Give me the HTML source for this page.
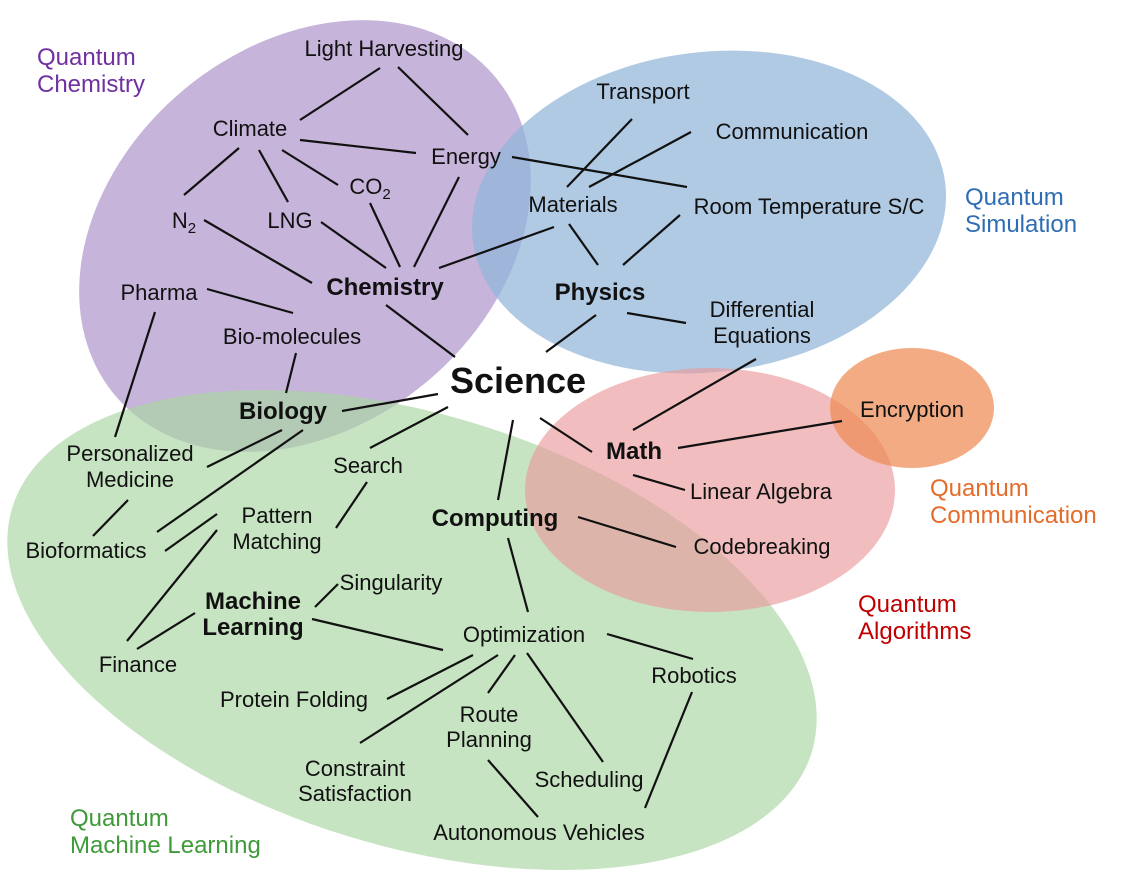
<!DOCTYPE html>
<html><head><meta charset="utf-8"><style>
html,body{margin:0;padding:0;background:#fff;overflow:hidden;width:1126px;height:890px;}
svg{display:block;overflow:hidden;}
svg text{font-family:"Liberation Sans",sans-serif;font-size:22px;fill:#111;}
.b{font-weight:bold;font-size:24px;}
.r{font-size:24px;}
</style></head><body>
<svg width="1126" height="890" viewBox="0 0 1126 890">
<g>
<ellipse cx="305" cy="236" rx="248" ry="190" transform="rotate(-40 305 236)" fill="#b39bcd" fill-opacity="0.75"/>
<ellipse cx="709" cy="212" rx="238" ry="160" transform="rotate(-7 709 212)" fill="#92b5da" fill-opacity="0.72"/>
<ellipse cx="412" cy="630" rx="418" ry="216" transform="rotate(17 412 630)" fill="#a9d6a2" fill-opacity="0.65"/>
<ellipse cx="710" cy="490" rx="185" ry="122" fill="#e99a9c" fill-opacity="0.65"/>
<ellipse cx="912" cy="408" rx="82" ry="60" fill="#ee8a55" fill-opacity="0.72"/>
</g>
<g stroke="#111" stroke-width="2.2">
<line x1="380" y1="68" x2="300" y2="120"/><line x1="398" y1="67" x2="468" y2="135"/>
<line x1="300" y1="140" x2="416" y2="153"/><line x1="512" y1="157" x2="687" y2="187"/>
<line x1="239" y1="148" x2="184" y2="195"/><line x1="259" y1="150" x2="288" y2="202"/>
<line x1="282" y1="150" x2="338" y2="185"/><line x1="204" y1="220" x2="312" y2="283"/>
<line x1="321" y1="222" x2="386" y2="268"/><line x1="370" y1="203" x2="400" y2="267"/>
<line x1="459" y1="177" x2="414" y2="267"/><line x1="554" y1="227" x2="439" y2="268"/>
<line x1="632" y1="119" x2="567" y2="187"/><line x1="691" y1="132" x2="589" y2="187"/>
<line x1="569" y1="224" x2="598" y2="265"/><line x1="680" y1="215" x2="623" y2="265"/>
<line x1="627" y1="313" x2="686" y2="323"/><line x1="596" y1="315" x2="546" y2="352"/>
<line x1="386" y1="305" x2="455" y2="357"/><line x1="207" y1="289" x2="293" y2="313"/>
<line x1="296" y1="353" x2="286" y2="393"/><line x1="155" y1="312" x2="115" y2="437"/>
<line x1="438" y1="394" x2="342" y2="411"/><line x1="282" y1="430" x2="207" y2="467"/>
<line x1="303" y1="430" x2="157" y2="532"/><line x1="217" y1="514" x2="165" y2="551"/>
<line x1="217" y1="530" x2="127" y2="641"/><line x1="195" y1="613" x2="137" y2="649"/>
<line x1="128" y1="500" x2="93" y2="536"/><line x1="367" y1="482" x2="336" y2="528"/>
<line x1="448" y1="407" x2="370" y2="448"/><line x1="338" y1="584" x2="315" y2="607"/>
<line x1="312" y1="619" x2="443" y2="650"/><line x1="513" y1="420" x2="498" y2="500"/>
<line x1="508" y1="538" x2="528" y2="612"/><line x1="540" y1="418" x2="592" y2="452"/>
<line x1="633" y1="430" x2="756" y2="359"/><line x1="678" y1="448" x2="842" y2="421"/>
<line x1="633" y1="475" x2="685" y2="490"/><line x1="578" y1="517" x2="676" y2="547"/>
<line x1="473" y1="655" x2="387" y2="699"/><line x1="498" y1="655" x2="360" y2="743"/>
<line x1="515" y1="655" x2="488" y2="693"/><line x1="527" y1="653" x2="603" y2="762"/>
<line x1="607" y1="634" x2="693" y2="659"/><line x1="692" y1="692" x2="645" y2="808"/>
<line x1="488" y1="760" x2="538" y2="817"/>
</g>
<g>
<text class="r" x="37" y="65" style="fill:#7030a0">Quantum</text>
<text class="r" x="37" y="92" style="fill:#7030a0">Chemistry</text>
<text class="r" x="965" y="205" style="fill:#2e6db4">Quantum</text>
<text class="r" x="965" y="232" style="fill:#2e6db4">Simulation</text>
<text class="r" x="930" y="496" style="fill:#e46c2a">Quantum</text>
<text class="r" x="930" y="523" style="fill:#e46c2a">Communication</text>
<text class="r" x="858" y="612" style="fill:#c00000">Quantum</text>
<text class="r" x="858" y="639" style="fill:#c00000">Algorithms</text>
<text class="r" x="70" y="826" style="fill:#3f9a3a">Quantum</text>
<text class="r" x="70" y="853" style="fill:#3f9a3a">Machine Learning</text>
</g>
<g text-anchor="middle">
<text x="384" y="56">Light Harvesting</text>
<text x="250" y="136">Climate</text>
<text x="466" y="164">Energy</text>
<text x="643" y="99">Transport</text>
<text x="792" y="139">Communication</text>
<text x="573" y="212">Materials</text>
<text x="809" y="214">Room Temperature S/C</text>
<text x="184" y="228">N<tspan dy="5" font-size="15">2</tspan></text>
<text x="290" y="228">LNG</text>
<text x="370" y="194">CO<tspan dy="5" font-size="15">2</tspan></text>
<text class="b" x="385" y="295">Chemistry</text>
<text class="b" x="600" y="300">Physics</text>
<text x="159" y="300">Pharma</text>
<text x="292" y="344">Bio-molecules</text>
<text x="762" y="317">Differential</text>
<text x="762" y="343">Equations</text>
<text x="518" y="393" style="font-weight:bold;font-size:36px">Science</text>
<text class="b" x="283" y="419">Biology</text>
<text x="912" y="417">Encryption</text>
<text class="b" x="634" y="459">Math</text>
<text x="130" y="461">Personalized</text>
<text x="130" y="487">Medicine</text>
<text x="368" y="473">Search</text>
<text x="761" y="499">Linear Algebra</text>
<text x="277" y="523">Pattern</text>
<text x="277" y="549">Matching</text>
<text class="b" x="495" y="526">Computing</text>
<text x="86" y="558">Bioformatics</text>
<text x="762" y="554">Codebreaking</text>
<text x="391" y="590">Singularity</text>
<text class="b" x="253" y="609">Machine</text>
<text class="b" x="253" y="635">Learning</text>
<text x="524" y="642">Optimization</text>
<text x="138" y="672">Finance</text>
<text x="694" y="683">Robotics</text>
<text x="294" y="707">Protein Folding</text>
<text x="489" y="722">Route</text>
<text x="489" y="747">Planning</text>
<text x="355" y="776">Constraint</text>
<text x="355" y="801">Satisfaction</text>
<text x="589" y="787">Scheduling</text>
<text x="539" y="840">Autonomous Vehicles</text>
</g>
</svg>
</body></html>
